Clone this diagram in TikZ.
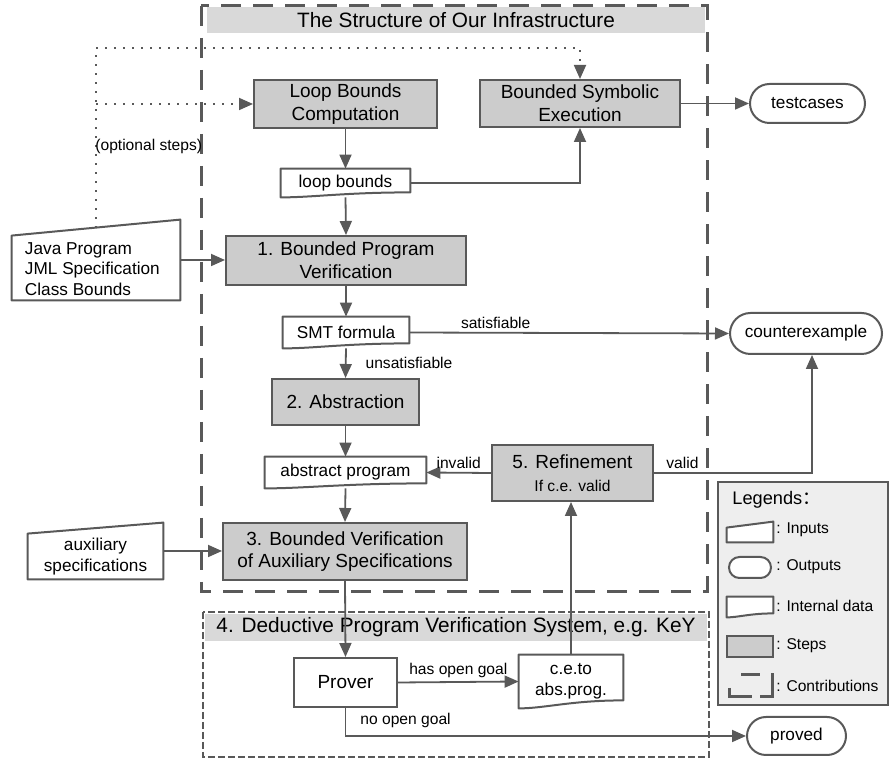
\documentclass[tikz,border=0pt]{standalone}
\usepackage{fontspec}
\setmainfont{Liberation Sans}
\newfontfamily\cjkfont{Noto Sans CJK SC}
\usetikzlibrary{arrows.meta,positioning,calc,shapes.misc}
\definecolor{linegray}{RGB}{89,89,89}
\definecolor{stepgray}{RGB}{204,204,204}
\definecolor{bargray}{RGB}{217,217,217}
\definecolor{legendgray}{RGB}{238,238,238}
\newcommand{\stepfont}{\fontsize{9.5}{11.4}\selectfont}
\newcommand{\datafont}{\fontsize{8.6}{10.3}\selectfont}
\newcommand{\barfont}{\fontsize{10.4}{12.5}\selectfont}
\newcommand{\lblfont}{\fontsize{7.8}{9.4}\selectfont}
% input: top left corner dropped by #3
\newcommand{\inputoutline}[3][]{%
  \draw[shapeline,#1] (#2.south west) -- ($(#2.north west)+(0,#3)$)
    -- (#2.north east) -- (#2.south east) -- cycle;}
% internal data: wavy bottom, right end raised by #3
\newcommand{\dataoutline}[3][]{%
  \draw[shapeline,#1] (#2.north west) -- (#2.north east)
    -- ($(#2.south east)+(0,-#3)$)
    .. controls ($(#2.south)+(0,-#3)$) and ($(#2.south west)!0.5!(#2.south)$)
    .. (#2.south west) -- cycle;}

\begin{document}
\begin{tikzpicture}[x=0.5pt, y=-0.5pt,
  shapeline/.style={draw=linegray, line width=1pt, line join=round},
  stepbox/.style={rectangle, draw=linegray, line width=1pt, fill=stepgray,
    font=\stepfont, align=center, inner sep=1pt},
  plainbox/.style={stepbox, fill=white},
  inbox/.style={rectangle, inner sep=0pt},
  databox/.style={rectangle, font=\datafont, align=center, inner sep=1pt},
  outbox/.style={rounded rectangle, draw=linegray, line width=1pt,
    font=\datafont, inner sep=1pt},
  titlebar/.style={rectangle, fill=bargray, font=\barfont, inner sep=0pt},
  lbl/.style={font=\lblfont, inner sep=1.5pt},
  legtext/.style={font=\lblfont, anchor=west, inner sep=0pt},
  arr/.style={-{Triangle[length=7pt,width=6pt]}, line width=0.9pt, draw=linegray},
  optarr/.style={arr, dash pattern=on 1pt off 3.5pt},
  contrframe/.style={draw=linegray, line width=1.5pt, dash pattern=on 10pt off 6pt},
  sysframe/.style={draw=linegray, line width=0.6pt, dash pattern=on 3.5pt off 1.5pt}
]
\useasboundingbox (0,0) rectangle (890,758);

% frames
\draw[contrframe] (201,6) rectangle (707,592);
\node[titlebar, minimum width=249pt, minimum height=13pt] (infratitle) at (456,20)
  {The Structure of Our Infrastructure};
\draw[sysframe] (203,612) rectangle (709,757);
\node[titlebar, minimum width=251pt, minimum height=13.5pt] (systitle) at (456,627.5)
  {4. Deductive Program Verification System, e.g. KeY};

% steps
\node[stepbox, minimum width=91.5pt, minimum height=24pt] (lbc) at (345.5,104)
  {Loop Bounds\\Computation};
\node[stepbox, minimum width=100pt, minimum height=23.5pt] (bse) at (580,103.5)
  {Bounded Symbolic\\Execution};
\node[stepbox, minimum width=120pt, minimum height=24.5pt] (bpv) at (346,260.5)
  {1. Bounded Program\\Verification};
\node[stepbox, minimum width=73.5pt, minimum height=23pt] (abs) at (345.5,402)
  {2. Abstraction};
\node[stepbox, minimum width=122pt, minimum height=28.5pt] (bvas) at (345,551.5)
  {3. Bounded Verification\\of Auxiliary Specifications};
\node[stepbox, minimum width=80.5pt, minimum height=28pt] (ref) at (572.5,473)
  {5. Refinement\\{\lblfont If c.e. valid}};
\node[plainbox, minimum width=51.5pt, minimum height=24.5pt] (prover) at (345.5,682.5)
  {Prover};

% inputs
\node[inbox, minimum width=84pt, minimum height=40pt] (java) at (96,260) {};
\inputoutline{java}{16}
\node[databox, align=left, anchor=west] (javatext) at ($(java.west)+(11,9)$)
  {Java Program\\JML Specification\\Class Bounds};
\node[inbox, minimum width=67.5pt, minimum height=28pt] (aux) at (95.5,551) {};
\inputoutline{aux}{11}
\node[databox] (auxtext) at ($(aux)+(0,5.5)$) {auxiliary\\specifications};

% internal data
\node[databox, minimum width=64.5pt, minimum height=14pt] (lb) at (345.5,183) {loop bounds};
\dataoutline{lb}{5}
\node[databox, minimum width=63pt, minimum height=15.5pt] (smt) at (346,332.5) {SMT formula};
\dataoutline{smt}{5}
\node[databox, minimum width=80.5pt, minimum height=15.5pt] (ap) at (345.5,472.5) {abstract program};
\dataoutline{ap}{5}
\node[databox, minimum width=52pt, minimum height=26.5pt] (cep) at (571,681.5) {c.e.to\\abs.prog.};
\dataoutline{cep}{8}

% outputs
\node[outbox, minimum width=59.5pt, minimum height=19.5pt] (tests) at (807.5,103.5) {testcases};
\node[outbox, minimum width=78pt, minimum height=20.5pt] (ce) at (806,333.5) {counterexample};
\node[outbox, minimum width=51.5pt, minimum height=19pt] (proved) at (796.5,736) {proved};

% connectors
\coordinate (jtop) at ($($(java.north west)+(0,16)$)!0.5!(java.north east)$);
\coordinate (opt) at (jtop |- 0,48);
\draw[optarr] (jtop) -- (opt) -| (bse.north);
\draw[optarr] (jtop |- lbc.west) -- (lbc.west);
\node[lbl, anchor=west, inner sep=0pt] (optlbl) at (95,146) {(optional steps)};
\draw[arr] (lbc.south) -- (lb.north);
\draw[arr] (lb.east) -| (bse.south);
\draw[arr] (bse.east) -- (tests.west);
\draw[arr] (lb.south) -- (bpv.north);
\draw[arr] (java.east) -- (java.east -| bpv.west);
\draw[arr] (bpv.south) -- (smt.north);
\draw[arr] (smt.east) -- node[lbl, pos=0.27, above] {satisfiable} (ce.west);
\draw[arr] (smt.south) -- node[lbl, anchor=west, xshift=8pt] {unsatisfiable} (abs.north);
\draw[arr] (abs.south) -- (ap.north);
\draw[arr] (ref.west) -- node[lbl, above] {invalid} (ap.east);
\draw[arr] (ref.east) -| node[lbl, pos=0.09, above] {valid} ([xshift=3pt]ce.south);
\draw[arr] (ap.south) -- (bvas.north);
\draw[arr] (aux.east) -- (aux.east -| bvas.west);
\draw[arr] (bvas.south) -- (prover.north);
\draw[arr] (prover.east) -- node[lbl, above] {has open goal} (cep.west);
\draw[arr] (cep.north) -- (cep.north |- ref.south);
\draw[arr] (prover.south) |- node[lbl, pos=0.575, above=2pt] {no open goal} (proved.west);

% legend
\node[rectangle, draw=linegray, line width=0.6pt, fill=legendgray,
  minimum width=85pt, minimum height=111.5pt] (legend) at (803,593.5) {};
\node[anchor=west, inner sep=0pt, font=\fontsize{9.1}{11}\selectfont] (legtitle) at (732,500)
  {Legends{\cjkfont ：}};
\node[inbox, minimum width=23pt, minimum height=10pt] (lgin) at (750,532) {};
\inputoutline[fill=white]{lgin}{6}
\node[outbox, fill=white, minimum width=23pt, minimum height=10.5pt] (lgout) at (750,567.5) {};
\node[inbox, minimum width=23pt, minimum height=10pt] (lgdata) at (750,607) {};
\dataoutline[fill=white]{lgdata}{4}
\node[stepbox, minimum width=23pt, minimum height=10.5pt] (lgstep) at (750,646.5) {};
\draw[draw=linegray, line width=1.5pt] (741,675) -- (760,675);
\draw[draw=linegray, line width=1.5pt] (729,688) -- (729,697) -- (752,697);
\draw[draw=linegray, line width=1.5pt] (760,697) -- (772,697) -- (772,673);
\node[legtext] (lgintxt) at (776,530) {: Inputs};
\node[legtext] (lgouttxt) at (776,567) {: Outputs};
\node[legtext] (lgdatatxt) at (776,606) {: Internal data};
\node[legtext] (lgsteptxt) at (776,646) {: Steps};
\node[legtext] (lgcontrtxt) at (776,686) {: Contributions};
\end{tikzpicture}
\end{document}
